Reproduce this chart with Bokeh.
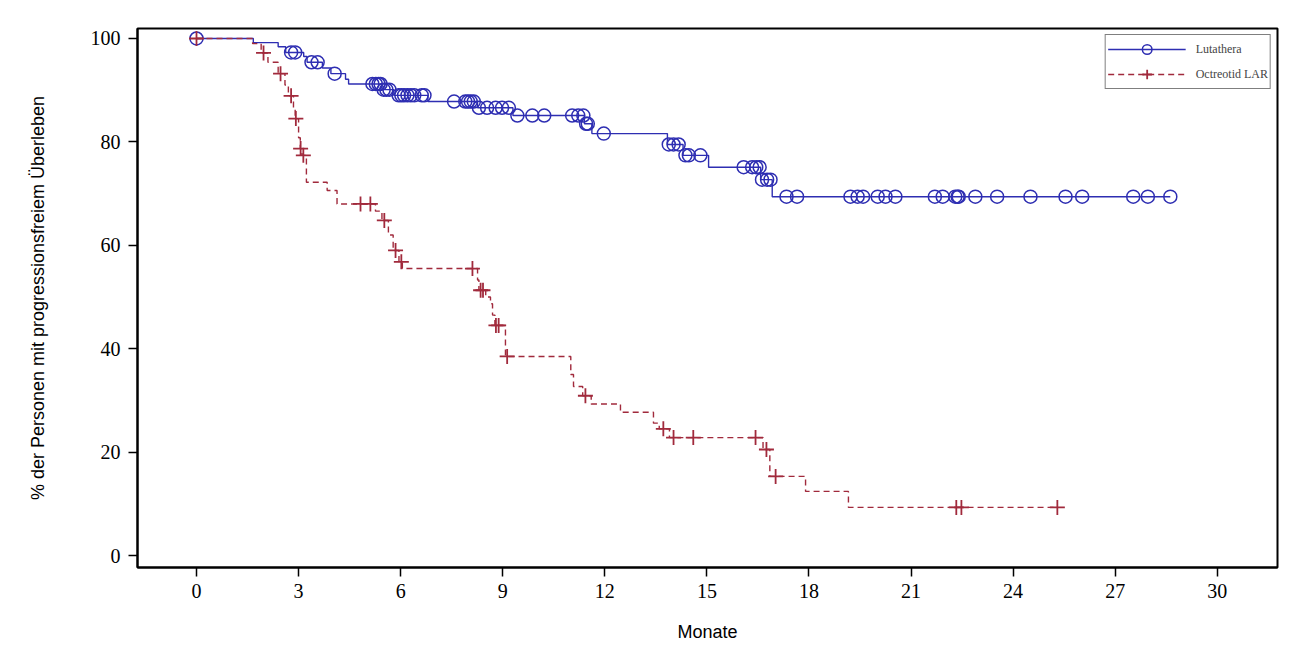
import numpy as np
from bokeh.plotting import figure
from bokeh.models import Legend, LegendItem, FixedTicker, Range1d
from bokeh.embed import file_html
from bokeh.resources import INLINE

# ---- data ----
luta_step_t = [0, 1.67, 2.4, 2.62, 3.15, 3.25, 3.7, 3.95, 4.38, 4.47, 5.45, 5.8, 6.8,
               8.26, 9.3, 11.4, 11.62, 13.84, 14.3, 15.05, 16.58, 16.92]
luta_step_s = [100, 99.2, 98.4, 97.3, 96.5, 95.4, 94.3, 93.2, 92.1, 91.2, 90.1, 89.0, 87.8,
               86.6, 85.1, 83.5, 81.6, 79.5, 77.4, 75.1, 72.7, 69.4]
luta_cens_t = [0.0, 2.78, 2.9, 3.38, 3.56, 4.06, 5.17, 5.27, 5.35, 5.41, 5.5, 5.58, 5.67,
               5.94, 6.02, 6.1, 6.2, 6.3, 6.4, 6.62, 6.7, 7.57, 7.9, 7.98, 8.06, 8.15,
               8.3, 8.54, 8.79, 8.98, 9.18, 9.43, 9.87, 10.22, 11.04, 11.22, 11.37,
               11.45, 11.5, 11.97, 13.88, 14.02, 14.17, 14.37, 14.47, 14.81,
               16.08, 16.33, 16.45, 16.55, 16.62, 16.77, 16.87,
               17.34, 17.65, 19.22, 19.43, 19.59, 20.02, 20.25, 20.54, 21.7, 21.93,
               22.3, 22.37, 22.4, 22.89, 23.53, 24.51, 25.54, 26.03, 27.53, 27.96, 28.62]

octr_step_t = [0, 1.65, 1.9, 2.1, 2.4, 2.6, 2.7, 2.85, 2.9, 3.0, 3.05, 3.1, 3.23, 3.84,
               4.13, 5.26, 5.45, 5.64, 5.78, 5.95, 6.05, 8.26, 8.3, 8.5, 8.64, 8.7, 8.77,
               9.08, 11.0, 11.08, 11.35, 11.6, 12.46, 13.43, 13.6, 13.9, 16.65, 16.85,
               17.9, 19.16]
octr_step_s = [100, 99.0, 97.2, 95.4, 93.2, 91.0, 88.9, 86.5, 84.5, 80.8, 78.7, 77.4, 72.2,
               70.6, 68.0, 66.6, 64.8, 62.0, 59.0, 56.8, 55.5, 53.3, 51.3, 50.0, 48.7,
               46.5, 44.5, 38.5, 35.0, 32.7, 30.9, 29.3, 27.7, 25.6, 24.5, 22.8, 20.5,
               15.3, 12.4, 9.3]
octr_cens_t = [0.0, 1.97, 2.47, 2.78, 2.92, 3.06, 3.14, 4.82, 5.11, 5.52, 5.85, 6.02,
               8.11, 8.35, 8.42, 8.8, 8.88, 9.13, 11.43, 13.72, 14.02, 14.6, 16.43,
               16.75, 17.02, 22.33, 22.48, 25.3]

x_ticks = [0, 3, 6, 9, 12, 15, 18, 21, 24, 27, 30]
y_ticks = [0, 20, 40, 60, 80, 100]
labels = ["Lutathera", "Octreotid LAR"]

BLUE = "#2E2EB2"
RED = "#A12A3C"


def survival_at(step_t, step_s, t):
    idx = np.searchsorted(np.asarray(step_t), np.asarray(t), side="right") - 1
    return np.asarray(step_s)[idx]


def extend(step_t, step_s, end_t):
    return list(step_t) + [end_t], list(step_s) + [step_s[-1]]


p = figure(frame_width=1140, frame_height=539, output_backend="svg",
           toolbar_location=None,
           x_range=Range1d(-1.734, 31.77), y_range=Range1d(-2.32, 101.93),
           min_border_left=137, min_border_right=5, min_border_top=28,
           min_border_bottom=75, background_fill_color="white",
           border_fill_color="white")

lt, ls = extend(luta_step_t, luta_step_s, max(luta_cens_t))
ot, os_ = extend(octr_step_t, octr_step_s, max(octr_cens_t))

l_line = p.step(lt, ls, mode="after", line_color=BLUE, line_width=1.4)
l_mark = p.scatter(luta_cens_t, survival_at(luta_step_t, luta_step_s, luta_cens_t),
                   marker="circle", size=13, fill_color=None, line_color=BLUE,
                   line_width=1.5)
o_line = p.step(ot, os_, mode="after", line_color=RED, line_width=1.4, line_dash="6 4")
o_mark = p.scatter(octr_cens_t, survival_at(octr_step_t, octr_step_s, octr_cens_t),
                   marker="cross", size=15, line_color=RED, line_width=1.8)

legend = Legend(items=[LegendItem(label=labels[0], renderers=[l_line, l_mark]),
                       LegendItem(label=labels[1], renderers=[o_line, o_mark])],
                location="top_right")
legend.margin = 6
legend.padding = 2
legend.spacing = 1
legend.glyph_width = 78
legend.glyph_height = 24
legend.label_standoff = 10
legend.label_text_font = "Liberation Serif"
legend.label_text_font_size = "12px"
legend.border_line_color = "black"
legend.border_line_width = 1.5
legend.background_fill_alpha = 1.0
p.add_layout(legend, "center")

p.grid.visible = False
p.outline_line_color = "black"
p.outline_line_width = 2

for ax in (p.xaxis[0], p.yaxis[0]):
    ax.axis_line_width = 2
    ax.axis_line_color = "black"
    ax.major_tick_out = 9
    ax.major_tick_in = 0
    ax.major_tick_line_width = 1.5
    ax.minor_tick_line_color = None
    ax.major_label_text_font = "Liberation Serif"
    ax.major_label_text_font_size = "20px"
    ax.major_label_text_color = "black"
    ax.axis_label_text_font = "Liberation Sans"
    ax.axis_label_text_font_size = "18px"
    ax.axis_label_text_font_style = "normal"
    ax.axis_label_text_color = "black"

p.xaxis.ticker = FixedTicker(ticks=x_ticks)
p.yaxis.ticker = FixedTicker(ticks=y_ticks)
p.xaxis.axis_label = "Monate"
p.yaxis.axis_label = "% der Personen mit progressionsfreiem Überleben"
p.xaxis.major_label_standoff = 7
p.yaxis.major_label_standoff = 8
p.xaxis.axis_label_standoff = 21
p.yaxis.axis_label_standoff = 40

open("out.html", "w").write(file_html(p, INLINE))
